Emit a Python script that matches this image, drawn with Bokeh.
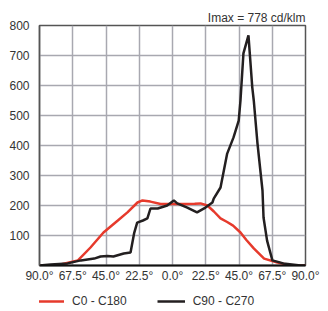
from bokeh.plotting import figure
from bokeh.layouts import column
from bokeh.models import FixedTicker, Title, Legend, LegendItem
from bokeh.embed import file_html
from bokeh.resources import INLINE

# C0 - C180 (red)
c0_angle = [-90, -82.5, -75, -64, -55.5, -46.7, -37, -30.5, -23.7, -20.3, -15, -8, 0, 8, 15, 19, 23.6, 28, 32.5, 37, 41, 46, 50, 55, 62, 71, 80, 90]
c0_value = [0, 0, 4, 17, 60, 110, 150, 177, 210, 217, 213, 205, 205, 205, 206, 207, 200, 180, 157, 145, 133, 110, 85, 57, 23, 10, 0, 0]

# C90 - C270 (black)
c90_angle = [-90, -82.5, -71, -62, -53, -48.7, -44, -40, -33, -28.4, -26, -23.9, -20, -17, -14.9, -10, -3.6, 0.9, 3.2, 10, 16.6, 22.3, 27, 27.9, 32.5, 37, 41.3, 44.8, 46, 48, 51.4, 54, 55, 57.5, 60.9, 61.6, 64, 67.6, 75, 86.6, 90]
c90_value = [0, 3, 7, 17, 23, 30, 32, 30, 40, 43, 107, 143, 150, 157, 190, 190, 200, 217, 207, 193, 177, 193, 210, 223, 260, 373, 427, 483, 550, 707, 767, 593, 550, 407, 250, 160, 83, 17, 7, 0, 0]

x_ticks = [-90, -67.5, -45, -22.5, 0, 22.5, 45, 67.5, 90]
x_tick_labels = ["90.0°", "67.5°", "45.0°", "22.5°", "0.0°", "22.5°", "45.0°", "67.5°", "90.0°"]
y_ticks = [100, 200, 300, 400, 500, 600, 700, 800]
title_text = "Imax = 778 cd/klm"
series_names = ["C0 - C180", "C90 - C270"]

FONT = "Liberation Sans"
FS = "12px"
TXT = "#333333"
RED = "#e63a2c"
BLACK = "#231f20"

p = figure(width=328, height=288, frame_width=266, frame_height=240,
           x_range=(-90, 90), y_range=(0, 800),
           output_backend="svg", toolbar_location=None,
           min_border_left=39, min_border_right=23, min_border_top=25, min_border_bottom=23)
p.background_fill_color = "white"
p.border_fill_color = "white"
p.outline_line_color = "#555555"
p.outline_line_width = 1.5

p.xaxis.ticker = FixedTicker(ticks=x_ticks)
p.xaxis.major_label_overrides = {t: l for t, l in zip(x_ticks, x_tick_labels)}
p.yaxis.ticker = FixedTicker(ticks=y_ticks)
for ax in (p.xaxis, p.yaxis):
    ax.major_tick_line_color = None
    ax.minor_tick_line_color = None
    ax.major_tick_out = 0
    ax.major_tick_in = 0
    ax.major_label_text_font = FONT
    ax.major_label_text_font_size = FS
    ax.major_label_text_color = TXT
p.xaxis.major_label_standoff = 3
p.yaxis.major_label_standoff = 10
p.xaxis.axis_line_color = "#111111"
p.xaxis.axis_line_width = 2
p.yaxis.axis_line_color = "#555555"
p.yaxis.axis_line_width = 1.5
p.xgrid.ticker = FixedTicker(ticks=x_ticks)
p.ygrid.ticker = FixedTicker(ticks=y_ticks)
p.grid.grid_line_color = "#a8a8b0"
p.grid.grid_line_width = 1.5

p.line(c0_angle, c0_value, line_color=RED, line_width=2.5)
p.line(c90_angle, c90_value, line_color=BLACK, line_width=2.5)

p.add_layout(Title(text=title_text, align="right", text_font=FONT, text_font_size=FS,
                   text_color=TXT, text_font_style="normal", standoff=2, offset=0), "above")

# Legend strip below the chart (its lines are out of view; only the legend shows)
lg = figure(width=328, height=23, x_range=(1000, 1001), y_range=(1000, 1001),
            output_backend="svg", toolbar_location=None,
            x_axis_location=None, y_axis_location=None,
            min_border_left=0, min_border_right=0, min_border_top=0, min_border_bottom=0)
lg.grid.visible = False
lg.outline_line_color = None
lg.background_fill_color = "white"
lg.border_fill_color = "white"
l0 = lg.line(c0_angle, c0_value, line_color=RED, line_width=2.5)
l1 = lg.line(c90_angle, c90_value, line_color=BLACK, line_width=2.5)

legend = Legend(items=[LegendItem(label=series_names[0], renderers=[l0]),
                       LegendItem(label=series_names[1], renderers=[l1])],
                orientation="horizontal", location=(-3, 3), padding=0, margin=0,
                spacing=30, glyph_width=28, glyph_height=14, label_height=14,
                label_standoff=8, label_text_font=FONT, label_text_font_size=FS,
                label_text_color=TXT, border_line_color=None,
                background_fill_alpha=0)
lg.add_layout(legend, "center")

layout = column(p, lg, spacing=0)
open("out.html", "w").write(file_html(layout, INLINE))
